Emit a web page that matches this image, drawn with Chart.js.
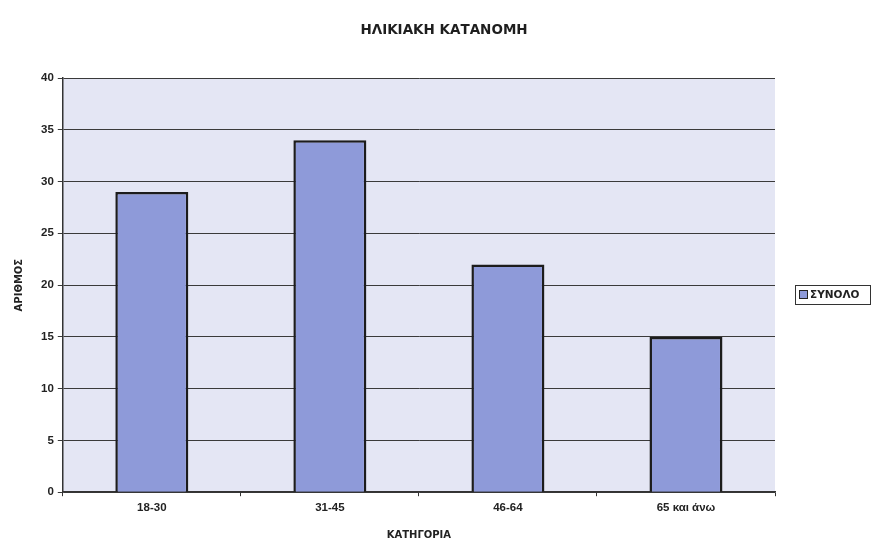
<!DOCTYPE html>
<html>
<head>
<meta charset="utf-8">
<script src="https://cdn.jsdelivr.net/npm/chart.js@4"></script>
<style>
  html, body { margin: 0; padding: 0; background: #ffffff; }
  #chart { display: block; }
</style>
</head>
<body>
<canvas id="chart" width="873" height="544"></canvas>
<script>
const categories = ['18-30', '31-45', '46-64', '65 και άνω']
const totals = [29, 34, 22, 15]
const seriesName = 'ΣΥΝΟΛΟ'
const chartTitle = 'ΗΛΙΚΙΑΚΗ ΚΑΤΑΝΟΜΗ'
const yTicks = [0, 5, 10, 15, 20, 25, 30, 35, 40]

const FONT = 'Liberation Sans, Arial, sans-serif'
const WIDE = 'DejaVu Sans, sans-serif'

// plot area background, title over the plot and the legend box on the right
const extras = {
    id: 'extras',
    beforeDraw(chart) {
        const { ctx, chartArea: a } = chart
        ctx.save()
        ctx.fillStyle = '#e4e6f4'
        ctx.fillRect(a.left, a.top, a.right - a.left, a.bottom - a.top)
        ctx.restore()
    },
    afterDraw(chart) {
        const { ctx } = chart
        const ds = chart.data.datasets[0]
        ctx.save()
        ctx.fillStyle = '#1e1e1e'
        ctx.font = 'bold 13.5px ' + WIDE
        ctx.textAlign = 'center'
        ctx.textBaseline = 'middle'
        ctx.fillText(chartTitle, 444, 30)

        ctx.textAlign = 'left'
        ctx.strokeStyle = '#333'
        ctx.lineWidth = 1
        ctx.strokeRect(795.5, 285.5, 75, 19)
        ctx.fillStyle = ds.backgroundColor
        ctx.fillRect(800, 291, 7, 7)
        ctx.strokeStyle = '#222'
        ctx.strokeRect(799.5, 290.5, 8, 8)
        ctx.fillStyle = '#222'
        ctx.font = 'bold 10.5px ' + WIDE
        ctx.fillText(ds.label, 810, 295.5)
        ctx.restore()
    }
}

const data = {
    labels: categories,
    datasets: [{
        label: seriesName,
        data: totals,
        backgroundColor: '#8e9ad9',
        borderColor: '#1c1c1c',
        borderWidth: 2.5,
        categoryPercentage: 1,
        barPercentage: 0.41
    }]
}

const options = {
    responsive: false,
    animation: false,
    layout: { padding: { top: 78, right: 98, bottom: 3, left: 13 } },
    plugins: {
        legend: { display: false },
        tooltip: { enabled: false },
        title: { display: false }
    },
    scales: {
        x: {
            offset: true,
            border: { color: '#333', width: 1.5 },
            grid: { offset: true, drawOnChartArea: false, drawTicks: true, tickLength: 4, color: '#333' },
            ticks: { color: '#222', font: { family: FONT, size: 11.5, weight: 'bold' }, padding: 5 },
            title: {
                display: true,
                text: 'ΚΑΤΗΓΟΡΙΑ',
                color: '#222',
                font: { family: WIDE, size: 10, weight: 'bold' },
                padding: { top: 9, bottom: 0 }
            }
        },
        y: {
            min: 0,
            max: 40,
            afterBuildTicks: (axis) => { axis.ticks = yTicks.map(v => ({ value: v })) },
            border: { color: '#333', width: 1.5 },
            grid: { color: '#3a3a3a', lineWidth: 1, tickLength: 5 },
            ticks: { color: '#222', font: { family: FONT, size: 11.5, weight: 'bold' }, padding: 4 },
            title: {
                display: true,
                text: 'ΑΡΙΘΜΟΣ',
                color: '#222',
                font: { family: WIDE, size: 10, weight: 'bold' },
                padding: { top: 0, bottom: 12 }
            }
        }
    }
}

new Chart('chart', { type: 'bar', data, options, plugins: [extras] })
</script>
</body>
</html>
